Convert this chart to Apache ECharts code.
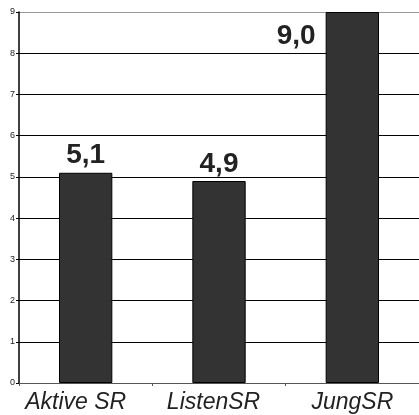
<!DOCTYPE html>
<html>
<head>
<meta charset="utf-8">
<style>
  html, body { margin: 0; padding: 0; background: #fff; }
  #chart { width: 419px; height: 415px; }
</style>
<script src="https://cdn.jsdelivr.net/npm/echarts@6/dist/echarts.min.js"></script>
</head>
<body>
<div id="chart"></div>
<script>
// Categories and values
const categories = ['Aktive SR', 'ListenSR', 'JungSR'];
const values = [5.1, 4.9, 9.0];
const yTicks = [0, 1, 2, 3, 4, 5, 6, 7, 8, 9];

const font = '"Liberation Sans", Arial, sans-serif';

const chart = echarts.init(document.getElementById('chart'), null, { renderer: 'canvas' });

const fmt = v => v.toFixed(1).replace('.', ',');

const barData = values.map((v, i) => {
  const item = { value: v };
  if (v >= yTicks[yTicks.length - 1]) {
    // the tallest bar reaches the top, so its label sits beside it
    item.label = { position: [-10, 10], align: 'right', verticalAlign: 'top' };
  }
  return item;
});

// category labels sit slightly left of their slot centres
const labelRich = {
  c0: { padding: [0, 20, 0, 0] },
  c1: { padding: [0, 11, 0, 0] },
  c2: { padding: [0, 0, 0, 0] }
};
const catLabelStyle = { fontFamily: font, fontStyle: 'italic', fontSize: 23, color: '#222' };
Object.keys(labelRich).forEach(k => Object.assign(labelRich[k], catLabelStyle));

chart.setOption({
  animation: false,
  backgroundColor: '#ffffff',
  grid: { left: 19, right: -5, top: 12, bottom: 32, containLabel: false },
  xAxis: {
    type: 'category',
    data: categories,
    boundaryGap: true,
    axisLine: { show: true, lineStyle: { color: '#555', width: 1 } },
    axisTick: { show: true, interval: 0, length: 3, lineStyle: { color: '#555' } },
    axisLabel: {
      interval: 0,
      hideOverlap: false,
      margin: 8,
      fontFamily: font,
      fontStyle: 'italic',
      fontSize: 23,
      color: '#222',
      formatter: (v, i) => '{c' + i + '|' + v + '}',
      rich: labelRich
    },
    splitLine: { show: false }
  },
  yAxis: {
    type: 'value',
    min: yTicks[0],
    max: yTicks[yTicks.length - 1],
    interval: 1,
    axisLine: { show: true, lineStyle: { color: '#000', width: 1.5 } },
    axisTick: { show: true, length: 3, lineStyle: { color: '#000' } },
    axisLabel: {
      margin: 4,
      fontFamily: font,
      fontSize: 9,
      color: '#222'
    },
    splitLine: {
      show: true,
      lineStyle: {
        color: ['#000', '#000', '#000', '#000', '#000', '#000', '#000', '#000', '#000', '#999'],
        width: 1
      }
    }
  },
  series: [{
    type: 'bar',
    data: barData,
    barWidth: '40%',
    itemStyle: { color: '#333333', borderColor: '#000', borderWidth: 1 },
    label: {
      show: true,
      position: 'top',
      distance: 3,
      fontFamily: font,
      fontWeight: 'bold',
      fontSize: 28,
      color: '#222',
      formatter: p => fmt(p.value)
    }
  }]
});
</script>
</body>
</html>
